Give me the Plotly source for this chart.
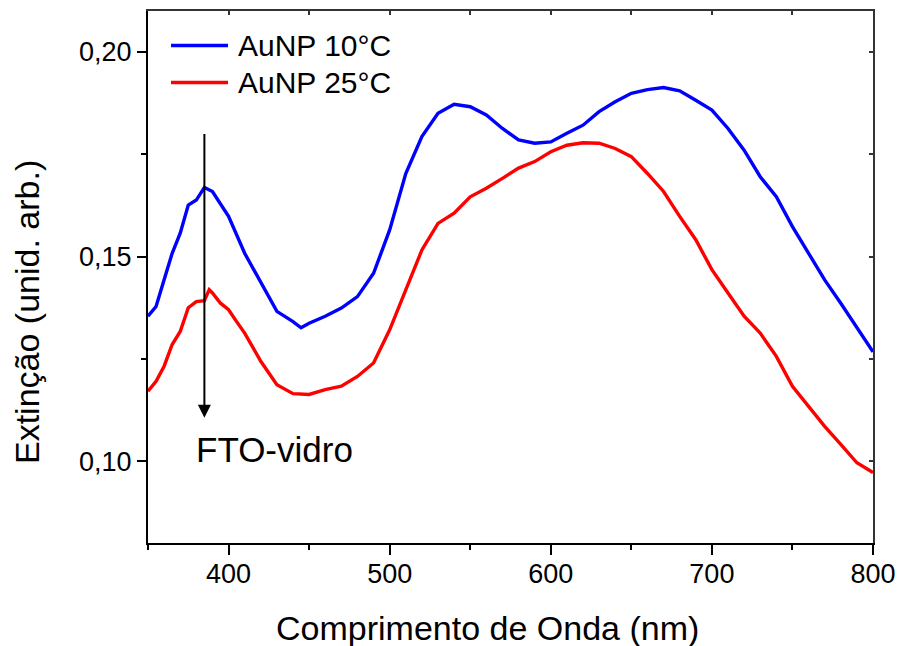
import plotly.graph_objects as go

wl_blue = [350, 355, 360, 365, 370, 375, 380, 385, 390, 400, 410, 420, 430, 440, 445, 450, 460, 470, 480, 490,
           500, 510, 520, 530, 540, 550, 560, 570, 580, 590, 600, 610, 620, 630, 640, 650, 660, 670, 680, 690,
           700, 710, 720, 730, 740, 750, 760, 770, 780, 790, 800]
ext_blue = [0.1354, 0.1378, 0.1443, 0.1508, 0.1557, 0.1626, 0.1638, 0.1669, 0.1659, 0.1598, 0.1508, 0.1435,
            0.1366, 0.1341, 0.1326, 0.1337, 0.1354, 0.1374, 0.1402, 0.1459, 0.1565, 0.1703, 0.1793, 0.1850,
            0.1872, 0.1866, 0.1846, 0.1813, 0.1785, 0.1777, 0.1780, 0.1801, 0.1821, 0.1854, 0.1878, 0.1899,
            0.1908, 0.1913, 0.1905, 0.1882, 0.1858, 0.1813, 0.1760, 0.1695, 0.1646, 0.1573, 0.1508, 0.1443,
            0.1386, 0.1325, 0.1267]

wl_red = [350, 355, 360, 365, 370, 375, 380, 385, 388, 390, 395, 400, 405, 410, 420, 430, 440, 450, 460, 470,
          480, 490, 500, 510, 520, 530, 540, 550, 560, 570, 580, 590, 600, 610, 620, 630, 640, 650, 660, 670,
          680, 690, 700, 710, 720, 730, 740, 750, 760, 770, 780, 790, 800]
ext_red = [0.1171, 0.1195, 0.1232, 0.1285, 0.1317, 0.1375, 0.1390, 0.1392, 0.1419, 0.1411, 0.1386, 0.1370,
           0.1341, 0.1313, 0.1244, 0.1187, 0.1165, 0.1163, 0.1175, 0.1183, 0.1207, 0.1240, 0.1321, 0.1419,
           0.1516, 0.1581, 0.1606, 0.1646, 0.1667, 0.1691, 0.1716, 0.1732, 0.1756, 0.1772, 0.1778, 0.1777,
           0.1764, 0.1744, 0.1703, 0.1659, 0.1598, 0.1541, 0.1468, 0.1411, 0.1354, 0.1313, 0.1256, 0.1183,
           0.1134, 0.1085, 0.1041, 0.0996, 0.0972]

names = ["AuNP 10°C", "AuNP 25°C"]
colors = ["#0000FF", "#FF0000"]
arrow_x = 385
arrow_top = 0.1803
arrow_tip = 0.1106
label_text = "FTO-vidro"

FONT = "Arial, Liberation Sans, sans-serif"

fig = go.Figure()
fig.add_trace(go.Scatter(x=wl_blue, y=ext_blue, mode="lines", name=names[0],
                         line=dict(color=colors[0], width=3.4), showlegend=False))
fig.add_trace(go.Scatter(x=wl_red, y=ext_red, mode="lines", name=names[1],
                         line=dict(color=colors[1], width=3.4), showlegend=False))
# mirror axes (top/right) with inward ticks
fig.add_trace(go.Scatter(x=[None], y=[None], xaxis="x2", yaxis="y2", showlegend=False, hoverinfo="skip"))

fig.update_layout(
    width=898, height=646,
    margin=dict(l=148, r=25, t=11, b=103, autoexpand=False),
    paper_bgcolor="white", plot_bgcolor="white",
    separators=",.",
    font=dict(family=FONT, color="black"),
    xaxis=dict(range=[350, 800], tick0=0, dtick=100, ticks="outside", ticklen=10, tickwidth=2,
               tickcolor="black", showline=True, linecolor="black", linewidth=2, showgrid=False,
               zeroline=False, tickfont=dict(size=27, family=FONT), automargin=False,
               ticklabelstandoff=-4,
               minor=dict(dtick=50, ticks="outside", ticklen=5, tickwidth=2, tickcolor="black")),
    yaxis=dict(range=[0.08, 0.21], tick0=0, dtick=0.05, tickformat=".2f", ticks="outside", ticklen=9,
               tickwidth=2, tickcolor="black", showline=True, linecolor="black", linewidth=2,
               showgrid=False, zeroline=False, tickfont=dict(size=27, family=FONT), automargin=False,
               minor=dict(dtick=0.025, ticks="outside", ticklen=5, tickwidth=2, tickcolor="black")),
    xaxis2=dict(range=[350, 800], overlaying="x", side="top", anchor="y", tick0=0, dtick=50,
                ticks="inside", ticklen=4, tickwidth=1.5, tickcolor="#333", showline=True,
                linecolor="#333", linewidth=2, showticklabels=False, showgrid=False, zeroline=False,
                automargin=False),
    yaxis2=dict(range=[0.08, 0.21], overlaying="y", side="right", anchor="x", tick0=0, dtick=0.025,
                ticks="inside", ticklen=4, tickwidth=1.5, tickcolor="#333", showline=True,
                linecolor="#333", linewidth=2, showticklabels=False, showgrid=False, zeroline=False,
                automargin=False),
)

# custom legend
leg_y = [45.5, 82.5]
for i in range(2):
    yp = 1 - (leg_y[i] - 11) / 532
    fig.add_shape(type="line", xref="paper", yref="paper",
                  x0=(171 - 148) / 725, x1=(228 - 148) / 725, y0=yp, y1=yp,
                  line=dict(color=colors[i], width=3.4))
    fig.add_annotation(xref="paper", yref="paper", x=(236 - 148) / 725, y=yp, text=names[i],
                       showarrow=False, xanchor="left", yanchor="middle",
                       font=dict(size=30, family=FONT, color="black"))

# arrow
fig.add_annotation(x=arrow_x, y=arrow_tip, ax=arrow_x, ay=arrow_top, xref="x", yref="y",
                   axref="x", ayref="y", showarrow=True, arrowhead=2, arrowsize=1.3,
                   arrowwidth=2, arrowcolor="black", text="")
fig.add_annotation(x=428.5, y=0.1029, xref="x", yref="y", text=label_text, showarrow=False,
                   xanchor="center", yanchor="middle", font=dict(size=35, family=FONT, color="black"))

# axis titles
fig.add_annotation(xref="paper", yref="paper", x=(487 - 148) / 725, y=0, yshift=-85,
                   text="Comprimento de Onda (nm)", showarrow=False, xanchor="center", yanchor="middle",
                   font=dict(size=34, family=FONT, color="black"))
fig.add_annotation(xref="paper", yref="paper", x=0, xshift=-121, y=(543 - 312) / 532,
                   text="Extinção (unid. arb.)", showarrow=False, textangle=-90,
                   xanchor="center", yanchor="middle", font=dict(size=34, family=FONT, color="black"))

fig.write_html("out.html")
